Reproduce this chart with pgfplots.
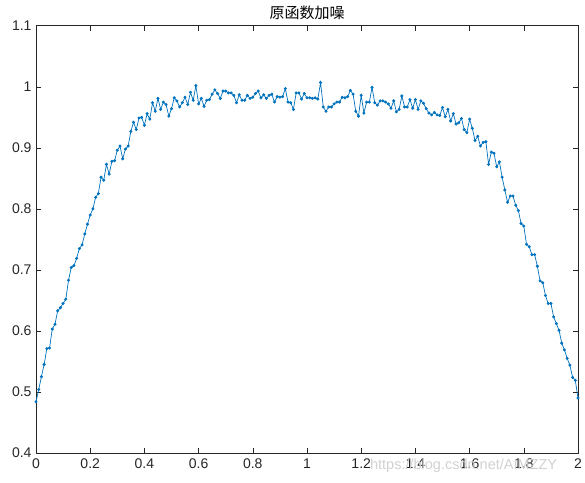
\documentclass[border=0pt]{standalone}
\usepackage{pgfplots}
\pgfplotsset{compat=1.18}
\usepackage{fontspec}
\setmainfont{Liberation Sans}
\newfontfamily\cjk{Noto Sans CJK SC}
\definecolor{mblue}{RGB}{0,114,189}
\definecolor{axgray}{RGB}{38,38,38}
\begin{document}
\begin{tikzpicture}
\begin{axis}[
  scale only axis,
  width=542pt, height=427.2pt,
  xmin=0, xmax=2, ymin=0.4, ymax=1.1,
  xtick={0,0.2,...,2.01}, ytick={0.4,0.5,...,1.11},
  xticklabels={0,0.2,0.4,0.6,0.8,1,1.2,1.4,1.6,1.8,2},
  yticklabels={0.4,0.5,0.6,0.7,0.8,0.9,1,1.1},
  tick align=inside, tick pos=both,
  major tick length=5pt,
  axis line style={axgray, line width=0.6pt},
  every tick/.style={axgray, line width=0.6pt},
  tick label style={font=\fontsize{14}{16}\selectfont, text=axgray},
  xticklabel style={yshift=-2pt},
  yticklabel style={xshift=-1pt},
  title={\cjk\fontsize{15}{17}\selectfont 原函数加噪},
  title style={yshift=-3pt, text=black},
  clip=false,
]
\addplot[color=mblue, line width=0.7pt, mark=*, mark size=1.15pt, mark options={fill=mblue, draw=mblue}] coordinates {
(0.00,0.484)(0.01,0.504)(0.02,0.525)(0.03,0.545)(0.04,0.571)(0.05,0.572)(0.06,0.603)(0.07,0.611)(0.08,0.633)(0.09,0.638)
(0.10,0.645)(0.11,0.652)(0.12,0.683)(0.13,0.704)(0.14,0.707)(0.15,0.719)(0.16,0.735)(0.17,0.741)(0.18,0.759)(0.19,0.775)
(0.20,0.790)(0.21,0.800)(0.22,0.819)(0.23,0.825)(0.24,0.852)(0.25,0.847)(0.26,0.873)(0.27,0.857)(0.28,0.878)(0.29,0.879)
(0.30,0.896)(0.31,0.903)(0.32,0.882)(0.33,0.898)(0.34,0.903)(0.35,0.927)(0.36,0.942)(0.37,0.930)(0.38,0.949)(0.39,0.950)
(0.40,0.937)(0.41,0.956)(0.42,0.947)(0.43,0.974)(0.44,0.960)(0.45,0.981)(0.46,0.963)(0.47,0.975)(0.48,0.971)(0.49,0.952)
(0.50,0.964)(0.51,0.982)(0.52,0.977)(0.53,0.967)(0.54,0.974)(0.55,0.983)(0.56,0.971)(0.57,0.991)(0.58,0.978)(0.59,1.002)
(0.60,0.972)(0.61,0.981)(0.62,0.968)(0.63,0.978)(0.64,0.979)(0.65,0.988)(0.66,0.995)(0.67,0.989)(0.68,0.981)(0.69,0.993)
(0.70,0.993)(0.71,0.990)(0.72,0.990)(0.73,0.986)(0.74,0.974)(0.75,0.987)(0.76,0.978)(0.77,0.978)(0.78,0.986)(0.79,0.981)
(0.80,0.983)(0.81,0.989)(0.82,0.993)(0.83,0.982)(0.84,0.987)(0.85,0.981)(0.86,0.986)(0.87,0.988)(0.88,0.975)(0.89,0.984)
(0.90,0.983)(0.91,0.984)(0.92,0.997)(0.93,0.975)(0.94,0.974)(0.95,0.963)(0.96,0.990)(0.97,0.990)(0.98,0.980)(0.99,0.989)
(1.00,0.982)(1.01,0.982)(1.02,0.981)(1.03,0.982)(1.04,0.980)(1.05,1.007)(1.06,0.967)(1.07,0.960)(1.08,0.967)(1.09,0.967)
(1.10,0.972)(1.11,0.975)(1.12,0.975)(1.13,0.983)(1.14,0.982)(1.15,0.984)(1.16,0.994)(1.17,0.988)(1.18,0.960)(1.19,0.952)
(1.20,0.986)(1.21,0.957)(1.22,0.975)(1.23,0.975)(1.24,0.999)(1.25,0.974)(1.26,0.970)(1.27,0.977)(1.28,0.977)(1.29,0.975)
(1.30,0.972)(1.31,0.965)(1.32,0.977)(1.33,0.959)(1.34,0.963)(1.35,0.985)(1.36,0.967)(1.37,0.967)(1.38,0.979)(1.39,0.965)
(1.40,0.979)(1.41,0.963)(1.42,0.977)(1.43,0.973)(1.44,0.964)(1.45,0.957)(1.46,0.954)(1.47,0.958)(1.48,0.954)(1.49,0.953)
(1.50,0.966)(1.51,0.951)(1.52,0.963)(1.53,0.944)(1.54,0.956)(1.55,0.939)(1.56,0.941)(1.57,0.948)(1.58,0.930)(1.59,0.925)
(1.60,0.947)(1.61,0.932)(1.62,0.912)(1.63,0.919)(1.64,0.903)(1.65,0.909)(1.66,0.910)(1.67,0.873)(1.68,0.893)(1.69,0.891)
(1.70,0.869)(1.71,0.877)(1.72,0.852)(1.73,0.831)(1.74,0.811)(1.75,0.821)(1.76,0.821)(1.77,0.806)(1.78,0.797)(1.79,0.776)
(1.80,0.772)(1.81,0.742)(1.82,0.738)(1.83,0.725)(1.84,0.725)(1.85,0.706)(1.86,0.682)(1.87,0.679)(1.88,0.658)(1.89,0.645)
(1.90,0.645)(1.91,0.623)(1.92,0.612)(1.93,0.601)(1.94,0.580)(1.95,0.569)(1.96,0.555)(1.97,0.544)(1.98,0.524)(1.99,0.519)
(2.00,0.490)
};
\node[anchor=base west, text=black!18, font=\fontsize{14.5}{16}\selectfont, inner sep=0pt]
  at (rel axis cs:0.616,0) [yshift=-17pt] {https://blog.csdn.net/AIMZZY};
\end{axis}
\path (current axis.south west) ++(-36pt,-30pt) coordinate (bl);
\path (current axis.north east) ++(7pt,25.8pt) coordinate (tr);
\pgfresetboundingbox
\useasboundingbox (bl) rectangle (tr);
\end{tikzpicture}
\end{document}
